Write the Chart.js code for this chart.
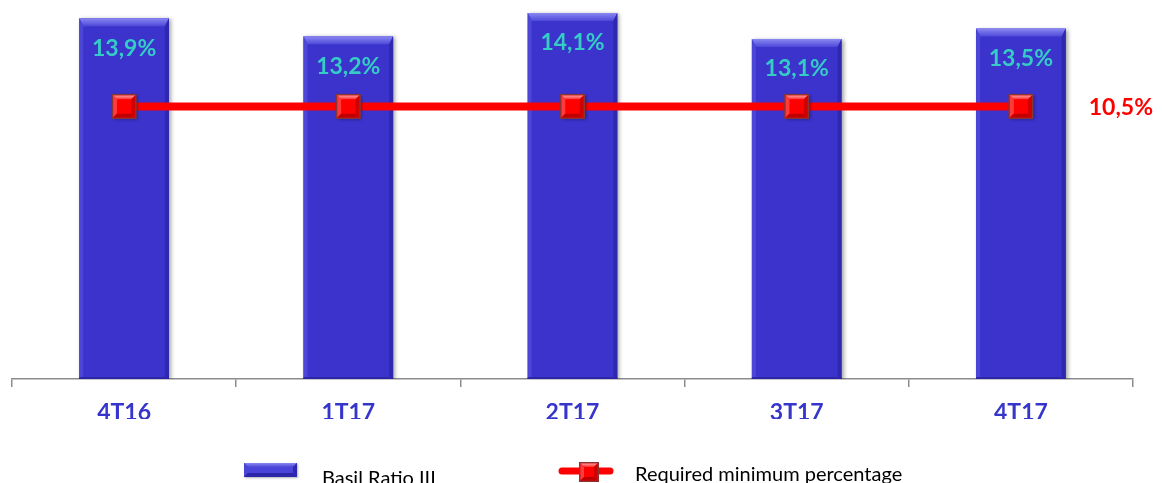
<!DOCTYPE html>
<html>
<head>
<meta charset="utf-8">
<script src="https://cdn.jsdelivr.net/npm/chart.js@4.4.1/dist/chart.umd.min.js"></script>
<style>
  html, body { margin: 0; padding: 0; background: #ffffff; overflow: hidden; }
  #wrap { width: 1162px; height: 483px; position: relative; }
</style>
</head>
<body>
<div id="wrap"><canvas id="c" width="1162" height="483"></canvas></div>
<script>
const categories = ['4T16', '1T17', '2T17', '3T17', '4T17'];
const basilRatio = [13.9, 13.2, 14.1, 13.1, 13.5];
const requiredMin = [10.5, 10.5, 10.5, 10.5, 10.5];
const seriesNames = ['Basil Ratio III', 'Required minimum percentage'];

const fmt = v => v.toFixed(1).replace('.', ',') + '%';

const BAR_COLOR = '#3B33CC';
const RED = '#FF0000';

function bevelRect(ctx, L, T, R, B, b, c) {
  let g = ctx.createLinearGradient(0, T, 0, T + b);
  g.addColorStop(0, c.top0); g.addColorStop(1, c.top1);
  ctx.fillStyle = g;
  ctx.beginPath(); ctx.moveTo(L, T); ctx.lineTo(R, T); ctx.lineTo(R - b, T + b); ctx.lineTo(L + b, T + b); ctx.closePath(); ctx.fill();
  ctx.fillStyle = c.left;
  ctx.beginPath(); ctx.moveTo(L, T); ctx.lineTo(L + b, T + b); ctx.lineTo(L + b, B - b); ctx.lineTo(L, B); ctx.closePath(); ctx.fill();
  ctx.fillStyle = c.right;
  ctx.beginPath(); ctx.moveTo(R, T); ctx.lineTo(R - b, T + b); ctx.lineTo(R - b, B - b); ctx.lineTo(R, B); ctx.closePath(); ctx.fill();
  ctx.fillStyle = c.bottom;
  ctx.beginPath(); ctx.moveTo(L, B); ctx.lineTo(L + b, B - b); ctx.lineTo(R - b, B - b); ctx.lineTo(R, B); ctx.closePath(); ctx.fill();
}

const barBevel = {
  top0: '#8A88F2', top1: '#4E48D8', left: '#4C46D6', right: '#2E28B0', bottom: '#2C27A8'
};
const redBevel = {
  top0: '#FF9A9A', top1: '#FF3030', left: '#FF3A3A', right: '#D00000', bottom: '#C00000'
};

const decorPlugin = {
  id: 'decor',
  beforeDatasetDraw(chart, args) {
    if (args.meta.type === 'bar') {
      const ctx = chart.ctx;
      ctx.save();
      ctx.shadowColor = 'rgba(0,0,0,0.35)';
      ctx.shadowBlur = 4;
      ctx.shadowOffsetX = 2;
      ctx.shadowOffsetY = 1;
    }
  },
  afterDatasetDraw(chart, args) {
    const ctx = chart.ctx;
    if (args.meta.type === 'bar') {
      ctx.restore();
      ctx.save();
      args.meta.data.forEach((el, i) => {
        const L = el.x - el.width / 2, R = el.x + el.width / 2;
        const T = el.y, B = el.base;
        let g = ctx.createLinearGradient(0, T, 0, T + 8);
        g.addColorStop(0, barBevel.top0); g.addColorStop(1, barBevel.top1);
        ctx.fillStyle = g;
        ctx.beginPath(); ctx.moveTo(L, T); ctx.lineTo(R, T); ctx.lineTo(R - 4, T + 8); ctx.lineTo(L + 4, T + 8); ctx.closePath(); ctx.fill();
        ctx.fillStyle = barBevel.left;
        ctx.beginPath(); ctx.moveTo(L, T); ctx.lineTo(L + 4, T + 8); ctx.lineTo(L + 4, B - 2); ctx.lineTo(L, B); ctx.closePath(); ctx.fill();
        ctx.fillStyle = barBevel.right;
        ctx.beginPath(); ctx.moveTo(R, T); ctx.lineTo(R - 4, T + 8); ctx.lineTo(R - 4, B - 2); ctx.lineTo(R, B); ctx.closePath(); ctx.fill();
        ctx.fillStyle = barBevel.bottom;
        ctx.fillRect(L, B - 2, R - L, 2);
        ctx.fillStyle = '#35CCC6';
        ctx.font = 'bold 23px Lato';
        ctx.textAlign = 'center';
        ctx.textBaseline = 'middle';
        ctx.fillText(fmt(basilRatio[i]), el.x, T + 30);
      });
      ctx.restore();
    } else if (args.meta.type === 'line') {
      ctx.save();
      const s = 12.5;
      args.meta.data.forEach((el) => {
        const L = el.x - s, R = el.x + s, T = el.y - s, B = el.y + s;
        ctx.shadowColor = 'rgba(0,0,0,0.35)';
        ctx.shadowBlur = 3; ctx.shadowOffsetX = 1.5; ctx.shadowOffsetY = 1.5;
        ctx.fillStyle = '#8A3535';
        ctx.fillRect(L, T, 2 * s, 2 * s);
        ctx.shadowColor = 'transparent';
        ctx.fillStyle = RED;
        ctx.fillRect(L + 1.5, T + 1.5, 2 * s - 3, 2 * s - 3);
        bevelRect(ctx, L + 1.5, T + 1.5, R - 1.5, B - 1.5, 4, redBevel);
        ctx.fillStyle = RED;
        ctx.fillRect(L + 5.5, T + 5.5, 2 * s - 11, 2 * s - 11);
      });
      const last = args.meta.data[args.meta.data.length - 1];
      ctx.fillStyle = RED;
      ctx.font = 'bold 23px Lato';
      ctx.textAlign = 'center';
      ctx.textBaseline = 'middle';
      ctx.fillText(fmt(requiredMin[requiredMin.length - 1]), last.x + 100, last.y + 1);
      ctx.restore();
    }
  },
  afterDraw(chart) {
    const ctx = chart.ctx;
    ctx.save();
    const bx = 244, by = 463, bw = 53, bh = 14;
    ctx.shadowColor = 'rgba(0,0,0,0.3)'; ctx.shadowBlur = 2; ctx.shadowOffsetX = 1; ctx.shadowOffsetY = 1;
    ctx.fillStyle = BAR_COLOR;
    ctx.fillRect(bx, by, bw, bh);
    ctx.shadowColor = 'transparent';
    bevelRect(ctx, bx, by, bx + bw, by + bh, 4, barBevel);
    ctx.fillStyle = '#4A44D8';
    ctx.fillRect(bx + 4, by + 4, bw - 8, bh - 8);
    ctx.fillStyle = '#000000';
    ctx.font = '20px Lato';
    ctx.textAlign = 'left';
    ctx.textBaseline = 'alphabetic';
    ctx.fillText(seriesNames[0], 322, 485);
    ctx.strokeStyle = RED;
    ctx.lineWidth = 7;
    ctx.lineCap = 'round';
    ctx.beginPath(); ctx.moveTo(562, 471); ctx.lineTo(610, 471); ctx.stroke();
    const mx = 589, my = 472, s = 10;
    ctx.fillStyle = '#8A3535';
    ctx.fillRect(mx - s, my - s, 2 * s, 2 * s);
    ctx.fillStyle = RED;
    ctx.fillRect(mx - s + 1.5, my - s + 1.5, 2 * s - 3, 2 * s - 3);
    bevelRect(ctx, mx - s + 1.5, my - s + 1.5, mx + s - 1.5, my + s - 1.5, 3.5, redBevel);
    ctx.fillStyle = RED;
    ctx.fillRect(mx - s + 5, my - s + 5, 2 * s - 10, 2 * s - 10);
    ctx.fillStyle = '#000000';
    ctx.font = '20px Lato';
    ctx.fillText(seriesNames[1], 635, 481);
    ctx.restore();
  }
};

new Chart(document.getElementById('c'), {
  data: {
    labels: categories,
    datasets: [
      {
        type: 'line',
        label: seriesNames[1],
        data: requiredMin,
        borderColor: RED,
        borderWidth: 8,
        pointRadius: 0,
        pointHoverRadius: 0,
        pointStyle: 'rect',
        order: 0
      },
      {
        type: 'bar',
        label: seriesNames[0],
        data: basilRatio,
        backgroundColor: BAR_COLOR,
        borderWidth: 0,
        barPercentage: 0.4,
        categoryPercentage: 1.0,
        order: 1
      }
    ]
  },
  options: {
    responsive: false,
    animation: false,
    devicePixelRatio: 1,
    layout: { padding: { left: 12, right: 29, top: 0, bottom: 64 } },
    plugins: {
      legend: { display: false },
      tooltip: { enabled: false }
    },
    scales: {
      x: {
        offset: true,
        grid: {
          offset: true,
          drawOnChartArea: false,
          drawTicks: true,
          tickLength: 8,
          color: '#8C8C8C',
          lineWidth: 1.5
        },
        border: { display: true, color: '#8C8C8C', width: 1.5 },
        ticks: {
          color: '#3535CC',
          font: { family: 'Lato', size: 23, weight: 'bold' },
          padding: 12,
          maxRotation: 0
        },
        afterFit(scale) { scale.height = 40; }
      },
      y: {
        display: false,
        min: 0,
        max: 14.6
      }
    }
  },
  plugins: [decorPlugin]
});
</script>
</body>
</html>
